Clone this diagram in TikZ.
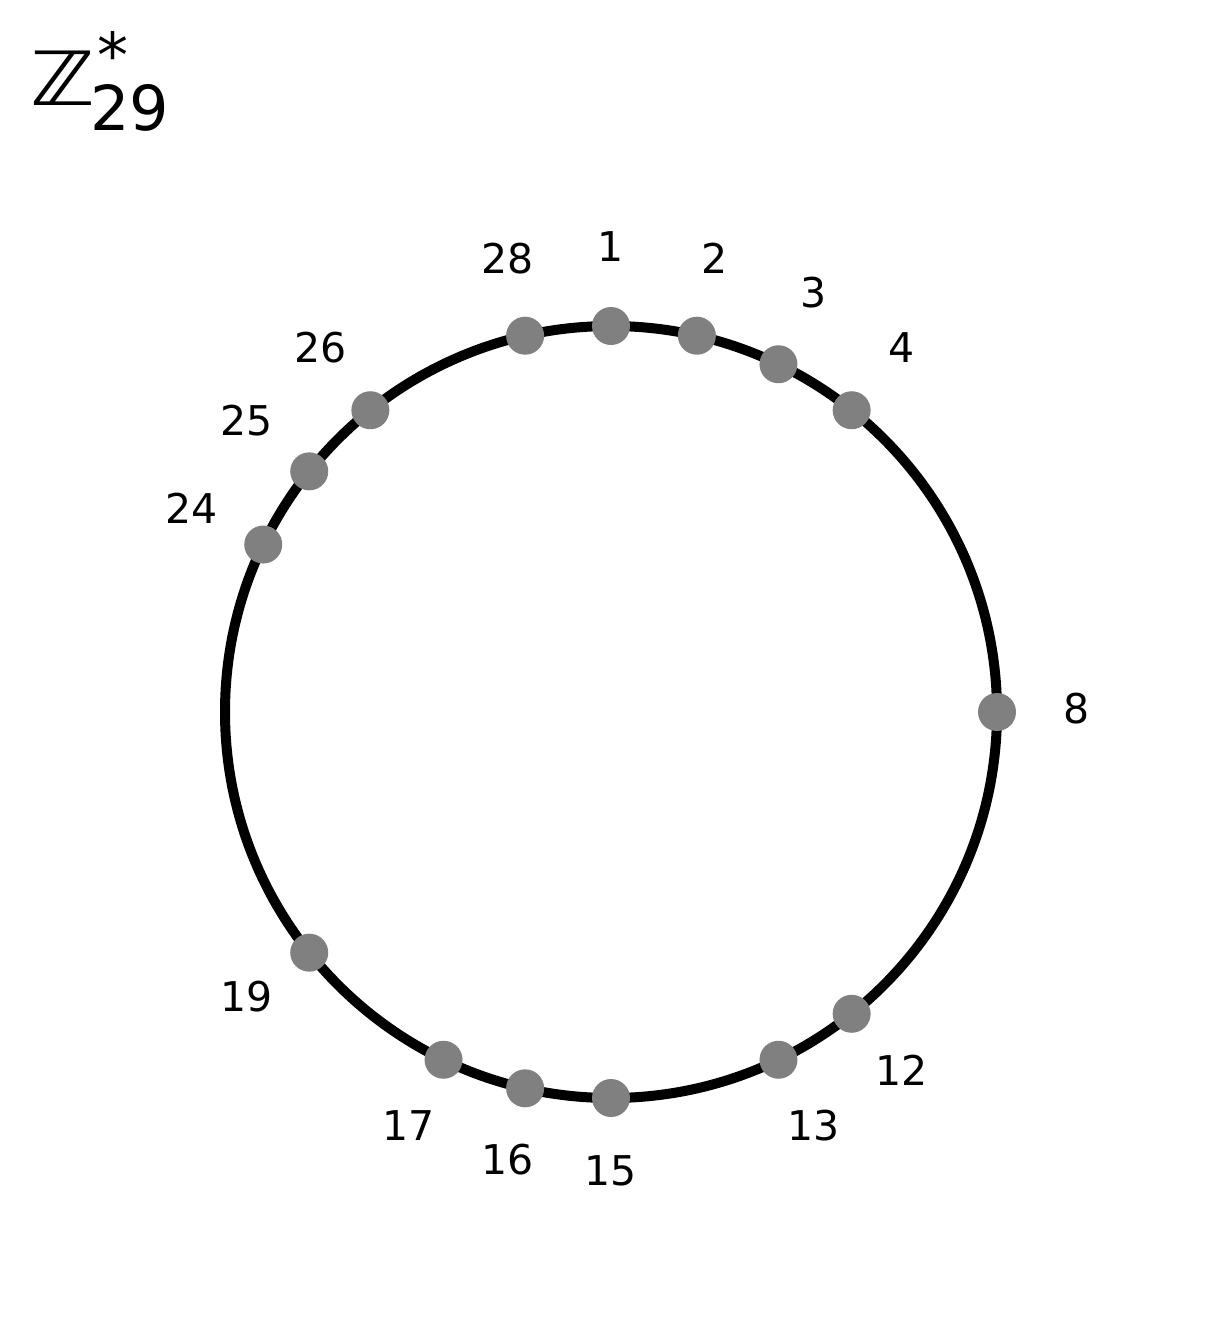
\documentclass[tikz,border=0pt]{standalone}
\usepackage{fontspec}
\setmainfont{DejaVu Sans}
\usetikzlibrary{calc}
\begin{document}
\begin{tikzpicture}[x=1pt,y=-1pt,
  dot/.style={circle,fill=gray,inner sep=0pt,minimum size=38pt},
  lab/.style={font=\fontsize{41}{49}\selectfont,inner sep=0pt},
  ttl/.style={anchor=base west,inner sep=0pt}]
\useasboundingbox (0,0) rectangle (1222,1320);
\coordinate (c) at (611,712);
\coordinate (cl) at (611,709);
\draw[line width=10pt] (c) circle[radius=386];
\foreach \k in {1,2,3,4,8,12,13,15,16,17,19,24,25,26,28}{
  \pgfmathsetmacro{\a}{90-(\k-1)*360/28}
  \node[dot] (p\k) at ($(c)+(\a:386 and -386)$) {};
  \node[lab] (l\k) at ($(cl)+(\a:466 and -462)$) {\k};
}
\node[ttl] (zz) at (30,105) {\scalebox{1.28}[1.1]{\fontsize{68}{80}\selectfont ℤ}};
\node[ttl] (ast) at (97,77) {\fontsize{62}{70}\selectfont *};
\node[ttl] (sub) at (90,130) {\fontsize{62}{74}\selectfont 29};
\end{tikzpicture}
\end{document}
